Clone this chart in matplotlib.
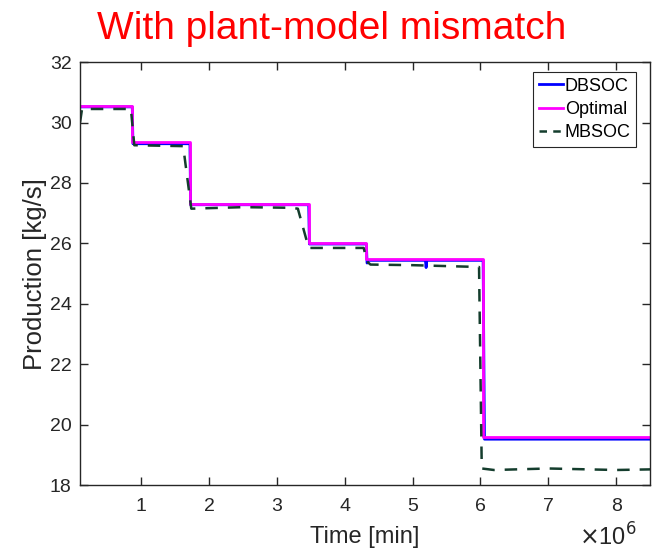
import matplotlib
matplotlib.use("Agg")
import matplotlib.pyplot as plt

plt.rcParams['font.family'] = ['Liberation Sans', 'DejaVu Sans']

# Time axis is in units of 1e6 min
opt_t = [0.1, 0.87, 0.87, 1.72, 1.72, 3.47, 3.47, 4.32, 4.32, 6.04, 6.04, 8.5]
opt_y = [30.55, 30.55, 29.35, 29.35, 27.32, 27.32, 26.03, 26.03, 25.47, 25.47, 19.58, 19.58]

db_t = [0.1, 0.87, 0.88, 1.72, 1.73, 3.47, 3.48, 4.32, 4.33, 4.35, 5.19, 5.2, 5.21, 6.04, 6.06, 8.5]
db_y = [30.52, 30.52, 29.3, 29.3, 27.28, 27.28, 25.98, 25.98, 25.35, 25.44, 25.44, 25.2, 25.44, 25.44, 19.52, 19.52]

mb_t = [0.1, 0.13, 0.85, 0.9, 1.62, 1.74, 2.5, 3.2, 3.31, 3.47, 4.28, 4.33, 4.38, 5.0, 5.98, 6.02, 6.2, 7.0, 8.0, 8.5]
mb_y = [30.0, 30.45, 30.45, 29.25, 29.22, 27.15, 27.2, 27.18, 27.15, 25.85, 25.85, 25.4, 25.3, 25.28, 25.22, 18.55, 18.5, 18.55, 18.5, 18.52]

fig = plt.figure(figsize=(6.64, 5.5), dpi=100)
ax = fig.add_axes([0.1205, 0.118, 0.8585, 0.769])

ax.plot(db_t, db_y, color='#0000ff', lw=2, label='DBSOC')
ax.plot(opt_t, opt_y, color='#ff00ff', lw=2, label='Optimal')
ax.plot(mb_t, mb_y, color='#143d2d', lw=1.8, ls=(0, (5, 4)), label='MBSOC')

ax.set_xlim(0.1, 8.5)
ax.set_ylim(18, 32)
ax.set_xticks([1, 2, 3, 4, 5, 6, 7, 8])
ax.set_yticks([18, 20, 22, 24, 26, 28, 30, 32])
ax.tick_params(direction='in', top=True, right=True, labelsize=14, colors='#262626', length=6, width=1)
ax.tick_params(axis='x', pad=9)
ax.tick_params(axis='y', pad=6)
for s in ax.spines.values():
    s.set_color('#262626')
    s.set_linewidth(1)

ax.set_xlabel('Time [min]', fontsize=17, color='#262626', labelpad=8)
ax.set_ylabel('Production [kg/s]', fontsize=18.5, color='#262626', labelpad=2)
fig.text(637 / 664, 4 / 550, r'$\times$10$^6$', ha='right', va='baseline', fontsize=17, color='#262626')

fig.text(0.5, 1 - 39 / 550, 'With plant-model mismatch', color='#ff0000', fontsize=28,
         ha='center', va='baseline')

leg = ax.legend(loc='upper right', bbox_to_anchor=(0.9754, 0.976), fontsize=13, fancybox=False,
                framealpha=1, edgecolor='#262626', handlelength=1.35, handletextpad=0.1,
                borderpad=0.3, labelspacing=0.35, borderaxespad=0)
leg.get_frame().set_linewidth(0.8)
leg.get_lines()[2].set_linestyle((0, (3, 2.5)))

fig.savefig('out.png', dpi=100)
